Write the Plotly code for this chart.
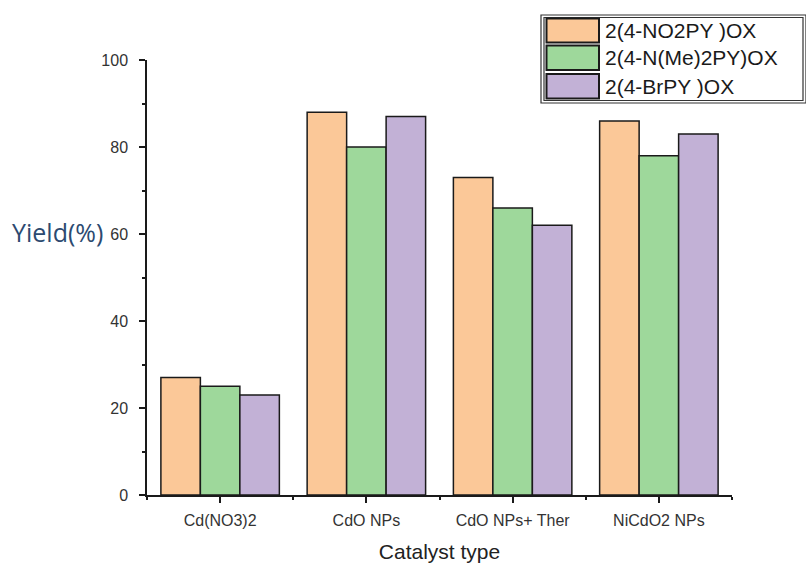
import plotly.graph_objects as go

categories = ["Cd(NO3)2", "CdO NPs", "CdO NPs+ Ther", "NiCdO2 NPs"]
series_names = ["2(4-NO2PY )OX", "2(4-N(Me)2PY)OX", "2(4-BrPY )OX"]
no2py = [27, 88, 73, 86]
nme2py = [25, 80, 66, 78]
brpy = [23, 87, 62, 83]
series_values = [no2py, nme2py, brpy]
colors = ["#FBC898", "#9ED89B", "#C2B1D6"]
y_ticks = [0, 20, 40, 60, 80, 100]

W, H = 806, 563
L, R, T, B = 147, 74, 60, 68
pw, ph = W - L - R, H - T - B

def px(x):
    return (x - L) / pw

def py(y):
    return (H - B - y) / ph

fig = go.Figure()
xs = list(range(len(categories)))
for name, vals, c in zip(series_names, series_values, colors):
    fig.add_trace(go.Bar(x=xs, y=vals, name=name, marker=dict(color=c, line=dict(color="#1a1a1a", width=1.5)),
                         showlegend=False))

font_main = "Liberation Sans, Arial, sans-serif"
fig.update_layout(
    width=W, height=H, margin=dict(l=L, r=R, t=T, b=B, autoexpand=False),
    paper_bgcolor="white", plot_bgcolor="white",
    barmode="group", bargap=0.19, bargroupgap=0,
    font=dict(family=font_main, color="#333333"),
    xaxis=dict(range=[-0.5, len(categories) - 0.5], tickvals=xs, ticktext=categories,
               showgrid=False, zeroline=False, showline=True, linecolor="#1a1a1a", linewidth=1.5,
               ticks="outside", ticklen=6, tickwidth=1.5, tickcolor="#1a1a1a",
               tickfont=dict(size=16, color="#333333"), ticklabelstandoff=4,
               minor=dict(tickvals=[i + 0.5 for i in range(-1, len(categories))], ticks="outside", ticklen=3,
                          tickwidth=1.5, tickcolor="#1a1a1a"),
               title=dict(text="Catalyst type", font=dict(size=21, color="#222222"), standoff=16)),
    yaxis=dict(range=[0, 100], tickvals=y_ticks, showgrid=False, zeroline=False, showline=True,
               linecolor="#1a1a1a", linewidth=1.5, ticks="outside", ticklen=6, tickwidth=1.5,
               tickcolor="#1a1a1a", tickfont=dict(size=16, color="#333333"), ticklabelstandoff=8,
               minor=dict(dtick=10, tick0=0, ticks="outside", ticklen=3, tickwidth=1.5, tickcolor="#1a1a1a")),
)

# y-axis title (horizontal, as in reference)
fig.add_annotation(text="Yield(%)", xref="paper", yref="paper", x=px(10), y=py(232), xanchor="left",
                   yanchor="middle", showarrow=False, font=dict(size=25, color="#2c4a70",
                                                                 family="Open Sans, sans-serif"))

# custom legend box
shapes = []
shapes.append(dict(type="rect", xref="paper", yref="paper", x0=px(541), x1=px(806), y0=py(103), y1=py(15),
                   line=dict(color="#333333", width=1.2), fillcolor="white"))
shapes.append(dict(type="rect", xref="paper", yref="paper", x0=px(544), x1=px(803), y0=py(100.5), y1=py(17.5),
                   line=dict(color="#333333", width=1.2)))
rows = [(18.5, 42.5), (45.5, 70), (74, 98.5)]
for (y0, y1), c, name in zip(rows, colors, series_names):
    shapes.append(dict(type="rect", xref="paper", yref="paper", x0=px(546.5), x1=px(599), y0=py(y1), y1=py(y0),
                       fillcolor=c, line=dict(color="#1a1a1a", width=2)))
    fig.add_annotation(text=name, xref="paper", yref="paper", x=px(603), y=py((y0 + y1) / 2), xanchor="left",
                       yanchor="middle", showarrow=False, font=dict(size=21, color="#1a1a1a", family=font_main))
fig.update_layout(shapes=shapes)

fig.write_html("out.html")
